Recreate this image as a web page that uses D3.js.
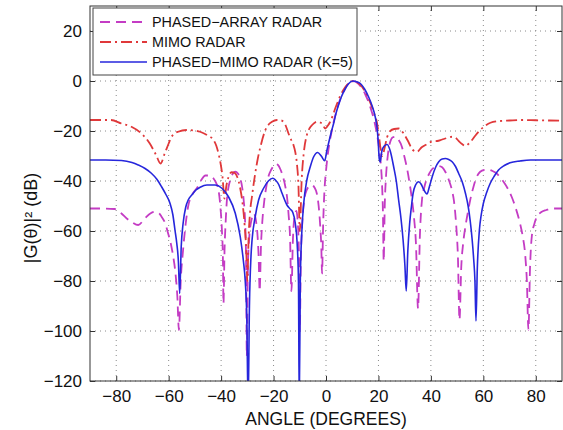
<!DOCTYPE html>
<html>
<head>
<meta charset="utf-8">
<script src="https://cdn.jsdelivr.net/npm/d3@7"></script>
<style>
  body { margin: 0; background: #fff; }
  text { font-family: "Liberation Sans", Arial, sans-serif; fill: #111; }
</style>
</head>
<body>
<script>
// beam patterns: angle (deg) and gain (dB)
var paAngle = [-90,-85,-80.6,-78,-76,-74.2,-71.6,-69.1,-67,-65.3,-63.8,-62.7,-61.3,-60.2,-59.2,-58.3,-57.4,-56.7,-56.1,-55.4,-54.5,-53.5,-52.6,-51,-49,-47.5,-46,-44.5,-42.9,-41.8,-41,-40.3,-39.7,-39.3,-39.1,-38.7,-38.2,-37.8,-37.2,-36.5,-35.5,-34.6,-33.6,-32.7,-31.9,-31.4,-30.9,-30.5,-30.2,-29.8,-29.3,-28.3,-27.5,-26.7,-26.1,-25.7,-25.3,-24.8,-24.2,-23.6,-22.8,-21.9,-20.9,-20,-19.2,-18.3,-17.4,-16.4,-15.5,-14.8,-14.3,-13.7,-13.2,-12.6,-12,-11.3,-10.8,-10.3,-10,-9.6,-9,-8.2,-7.3,-6.3,-5.3,-4.4,-3.5,-2.8,-2.2,-1.8,-1.5,-1.1,-0.6,0,0.6,1.3,2,3,4,5,6,7,8,9,10,11,12,13,14,15,16,17,18,19,19.8,20.5,21,21.4,21.7,22,22.4,22.9,23.6,24.5,25.5,26.5,27.5,29,29.9,30.9,31.9,32.8,33.6,34.3,35.1,35.8,36.6,37.5,38.5,39.5,40.5,41.8,43,44.3,45.5,46.8,48.1,48.8,49.3,49.8,50.3,50.9,51.6,52.3,53.2,54.2,55,56.2,57.4,58.8,60.3,61.9,63.5,65.1,66.4,67.7,69.3,70.8,72.4,74,75,76,76.6,77.2,77.8,78.5,79.5,80.4,82,84,86.1,90];
var paGain = [-51,-51,-51.2,-53,-55,-56.3,-57.6,-55,-53,-52.3,-52.8,-54.3,-57,-61,-65,-70,-77,-86,-99.6,-80,-67.6,-57,-50.3,-45.5,-42.5,-39.5,-37.8,-37.8,-39,-41,-43.6,-50,-59.6,-72,-89,-68,-55,-47.6,-42.5,-39.6,-37,-36.3,-37,-39,-43,-47.6,-55,-70,-110,-75,-63,-55,-53,-56,-62,-70,-84,-66,-55,-48.5,-42.5,-38,-35.5,-34,-33.2,-33.6,-35.3,-38.3,-42.3,-47,-53,-63,-84,-63,-54,-52,-56,-70,-100,-72,-56,-47,-43.5,-42,-41.6,-42.6,-45,-50,-58,-66,-77,-58,-44,-36,-30,-25,-21,-16,-12,-8.5,-5.8,-3.6,-1.8,-0.6,0,-0.2,-0.8,-1.9,-3.4,-5.4,-7.8,-10.8,-14.3,-18.8,-23.5,-29,-34.5,-42,-52,-72,-50,-38,-29.5,-24.3,-22.5,-22.3,-23.3,-26.5,-30.3,-35,-41,-47.5,-55,-65,-91,-62,-47.6,-42.5,-39,-36.8,-35.2,-34.3,-34,-34.5,-36.3,-39.5,-44,-48,-53,-60,-70,-95.6,-74,-65,-58,-52,-47.6,-42.5,-38.5,-36.3,-35.6,-35.5,-36,-37,-38.5,-40.3,-43,-46.3,-51,-57,-62,-70,-80,-99.6,-75,-62,-57,-54.3,-52.5,-51.6,-51,-51];

var mimoAngle = [-90,-82,-78,-74.2,-70.4,-67.2,-64.8,-63.1,-61.5,-60,-58.9,-56.4,-53.2,-50,-48,-45.4,-42.9,-41.8,-41,-40.2,-39.5,-38.7,-38,-37.2,-36,-34.8,-33.8,-32.7,-31.7,-31,-30.4,-30,-29.5,-29,-28.2,-27,-26,-25,-23.2,-21.8,-20.6,-18.7,-17,-15.5,-14.3,-13.3,-12.4,-11.7,-11.1,-10.5,-10,-9.3,-8.5,-7.3,-6.2,-5.3,-3.4,-1.5,-0.3,0.6,1.5,2.5,3.5,4.5,5.5,6.5,7.5,8.5,9.5,10.3,11.3,12.3,13.3,14.3,15.3,16.3,17.3,18.3,19.4,20.2,20.8,21.5,22.3,23.3,24.5,26,27.7,29.6,31.5,33,34.7,36.5,38.5,40.5,42.4,44.3,46.2,48.1,49.5,50.6,52,53.2,54.5,55.7,57,58.2,60.2,62.7,66.5,70,74.1,80,90];
var mimoGain = [-15.6,-15.6,-17,-18.3,-21,-25,-29.6,-33,-29,-25,-22.3,-20.3,-19.6,-19.8,-20.3,-21.6,-23.6,-26,-29,-33,-38,-47,-42,-38.5,-36.5,-36.8,-38.5,-43,-50,-58,-68,-80,-62,-53,-46,-37,-31,-26.3,-19.8,-17.3,-16.3,-15.6,-15.8,-17.5,-21,-23.5,-25.6,-28.5,-33,-42,-60,-40,-29,-21.6,-18.8,-17.6,-16.3,-17,-19,-18,-16.5,-14,-11,-8.3,-5.8,-3.8,-2.2,-1,-0.3,0,-0.2,-0.8,-1.8,-3.2,-5,-7.2,-9.8,-12.8,-16.5,-22,-27,-30,-27,-22.5,-20,-19.2,-19,-21,-24.5,-27.5,-28.3,-26.5,-25.3,-24.2,-24,-23.4,-22.8,-22.3,-22.8,-24,-25.3,-26,-25,-23.6,-21.8,-20.3,-18.3,-16.7,-16,-15.8,-15.6,-15.7,-15.9];

var pmAngle = [-90,-84,-78,-74,-71.6,-69,-66.6,-64.5,-62.7,-61,-59.5,-58.4,-57.6,-56.9,-56.3,-55.8,-55.2,-54.5,-53.5,-52.5,-51.1,-49.5,-48,-45.4,-42.3,-39.7,-37.2,-34.6,-32.7,-31.5,-30.8,-30.2,-29.7,-29.2,-28.6,-28.2,-27,-25.7,-23.8,-21.9,-20.3,-19.3,-18,-16.8,-14.9,-13.5,-12.7,-11.7,-11,-10.5,-10.2,-9.8,-9.2,-8.5,-7.3,-6,-4.7,-3.2,-1.8,-0.5,0.3,1,2,2.9,3.8,4.8,6,7.4,8.6,10.3,11.7,13.1,14.7,16.3,17.6,18.8,19.5,19.9,20.3,20.7,21.3,22.2,23.3,24.5,25.8,26.8,27.7,28.6,29.4,30.1,30.6,31.2,31.9,32.6,33.2,34.2,35.3,36.3,37.2,38.5,39.5,40.5,41.8,43,44.3,45.5,46.8,48.1,49.4,50.6,52,53.2,54.2,55,55.7,56.3,56.8,57.2,57.7,58.5,59.2,60,61.3,62.6,64.2,65.8,68,70.2,74,78,90];
var pmGain = [-31.6,-31.6,-31.8,-32.6,-33.6,-35,-36.9,-39.3,-42.3,-45.5,-48.9,-53.5,-59.6,-65,-72,-85,-66,-57,-50.5,-47.5,-45.5,-43.5,-42.5,-41.6,-41.6,-42.9,-46.3,-52.9,-62.3,-72,-80,-95,-130,-90,-70,-63.6,-54.3,-47.6,-42.9,-39.9,-38.9,-39.6,-41.5,-44.8,-49.6,-51.4,-52.5,-57,-65,-80,-130,-80,-60,-49,-39.6,-34.3,-30.3,-28.6,-30,-31.9,-28,-24.8,-20.5,-17,-13,-9.5,-6,-3,-1.1,0,-0.3,-1,-3.2,-6.5,-10,-14.5,-19,-24,-31,-32.3,-28,-26,-25.4,-28,-34.3,-40,-47.6,-55,-63.6,-74,-84,-68,-57,-50,-45,-41.5,-40.3,-41.3,-43.3,-45.2,-42,-38.3,-34.5,-32.3,-31.2,-31,-31.4,-32.3,-34.2,-37,-40.5,-45,-50,-56,-63,-71,-80,-96,-75,-59.6,-53.5,-49,-44.5,-41,-38,-35.6,-33.8,-32.7,-32,-31.6,-31.6];

var xTicks = [-80, -60, -40, -20, 0, 20, 40, 60, 80];
var yTicks = [-120, -100, -80, -60, -40, -20, 0, 20];
var seriesNames = ["PHASED\u2212ARRAY RADAR", "MIMO RADAR", "PHASED\u2212MIMO RADAR (K=5)"];

var width = 563, height = 430;
var margin = {left: 90, right: 1, top: 6, bottom: 49};

var svg = d3.select("body").append("svg")
    .attr("width", width)
    .attr("height", height);

var x = d3.scaleLinear().domain([-90, 90]).range([margin.left, width - margin.right]);
var y = d3.scaleLinear().domain([-120, 30]).range([height - margin.bottom, margin.top]);

var x0 = x.range()[0], x1 = x.range()[1], y0 = y.range()[0], y1 = y.range()[1];

// dotted grid
svg.append("g").selectAll("line").data(xTicks).enter().append("line")
    .attr("x1", function(d){ return x(d); }).attr("x2", function(d){ return x(d); })
    .attr("y1", y0).attr("y2", y1)
    .attr("stroke", "#8a8a8a").attr("stroke-width", 1).attr("stroke-dasharray", "1,4");
svg.append("g").selectAll("line").data(yTicks).enter().append("line")
    .attr("y1", function(d){ return y(d); }).attr("y2", function(d){ return y(d); })
    .attr("x1", x0).attr("x2", x1)
    .attr("stroke", "#8a8a8a").attr("stroke-width", 1).attr("stroke-dasharray", "1,4");

svg.append("clipPath").attr("id", "plot")
  .append("rect").attr("x", x0).attr("y", y1).attr("width", x1 - x0).attr("height", y0 - y1);

var line = d3.line()
    .x(function(d){ return x(d[0]); })
    .y(function(d){ return y(d[1]); })
    .curve(d3.curveMonotoneX);

var series = [
  {ang: paAngle, gain: paGain, color: "#c43cc4", dash: "10,6", w: 1.8},
  {ang: mimoAngle, gain: mimoGain, color: "#e0383a", dash: "11,4,2,4", w: 1.8},
  {ang: pmAngle, gain: pmGain, color: "#2626dc", dash: null, w: 1.6}
];

var plot = svg.append("g").attr("clip-path", "url(#plot)");
series.forEach(function(s){
  plot.append("path")
    .datum(d3.zip(s.ang, s.gain))
    .attr("fill", "none")
    .attr("stroke", s.color)
    .attr("stroke-width", s.w)
    .attr("stroke-dasharray", s.dash)
    .attr("d", line);
});

// axes, ticks inside on all sides
var tick = 5;
var xAxisB = d3.axisBottom(x).tickValues(xTicks).tickSizeInner(-tick).tickSizeOuter(0).tickPadding(9)
    .tickFormat(function(d){ return d < 0 ? "\u2212" + Math.abs(d) : d; });
var xAxisT = d3.axisTop(x).tickValues(xTicks).tickSizeInner(-tick).tickSizeOuter(0).tickFormat("");
var yAxisL = d3.axisLeft(y).tickValues(yTicks).tickSizeInner(-tick).tickSizeOuter(0).tickPadding(8)
    .tickFormat(function(d){ return d < 0 ? "\u2212" + Math.abs(d) : d; });
var yAxisR = d3.axisRight(y).tickValues(yTicks).tickSizeInner(-tick).tickSizeOuter(0).tickFormat("");

svg.append("g").attr("transform", "translate(0," + y0 + ")").call(xAxisB);
svg.append("g").attr("transform", "translate(0," + y1 + ")").call(xAxisT);
svg.append("g").attr("transform", "translate(" + x0 + ",0)").call(yAxisL);
svg.append("g").attr("transform", "translate(" + x1 + ",0)").call(yAxisR);

svg.selectAll(".domain").remove();
svg.selectAll(".tick line").attr("stroke", "#333");
svg.selectAll(".tick text").attr("font-size", 17).attr("fill", "#111")
   .style("font-family", "'Liberation Sans', Arial, sans-serif");

svg.append("rect")
    .attr("x", x0).attr("y", y1).attr("width", x1 - x0).attr("height", y0 - y1)
    .attr("fill", "none").attr("stroke", "#333").attr("stroke-width", 1);

// axis labels
svg.append("text")
    .attr("x", (x0 + x1) / 2).attr("y", 425)
    .attr("text-anchor", "middle").attr("font-size", 17.5)
    .text("ANGLE (DEGREES)");

svg.append("text")
    .attr("transform", "translate(37," + 218 + ") rotate(-90)")
    .attr("text-anchor", "middle").attr("font-size", 18)
    .text("|G(\u03b8)|\u00b2 (dB)");

// legend
var lg = svg.append("g");
lg.append("rect").attr("x", 93).attr("y", 8).attr("width", 264).attr("height", 67)
    .attr("fill", "#fff").attr("stroke", "#444").attr("stroke-width", 1);
series.forEach(function(s, i){
  var ly = 22 + i * 20;
  lg.append("line").attr("x1", 100).attr("x2", 147).attr("y1", ly).attr("y2", ly)
    .attr("stroke", s.color).attr("stroke-width", s.w).attr("stroke-dasharray", s.dash);
  lg.append("text").attr("x", 152).attr("y", ly + 5).attr("font-size", 14.4)
    .text(seriesNames[i]);
});
</script>
</body>
</html>
